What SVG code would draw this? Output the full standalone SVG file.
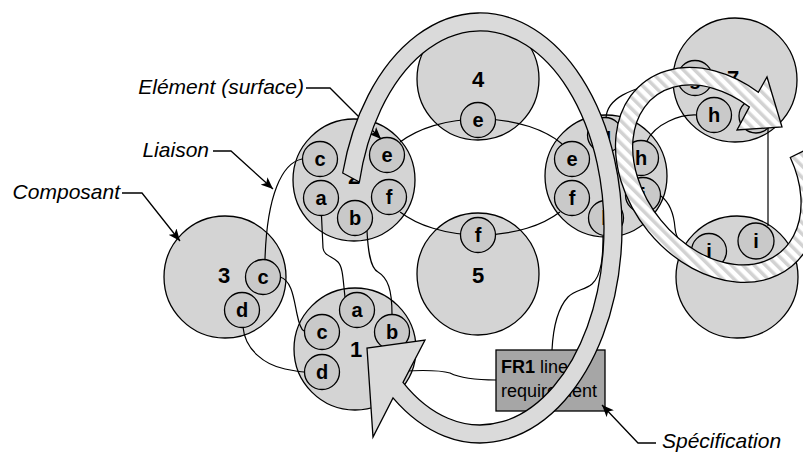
<svg xmlns="http://www.w3.org/2000/svg" width="803" height="454" viewBox="0 0 803 454">
<defs>
<style>
.comp{fill:#d4d4d4;stroke:#000;stroke-width:1.3}
.sub{fill:#c9c9c9;stroke:#000;stroke-width:1.3}
.sl{font-family:"Liberation Sans",Arial,sans-serif;font-weight:bold;font-size:20px;text-anchor:middle;fill:#000}
.bl{font-family:"Liberation Sans",Arial,sans-serif;font-weight:bold;font-size:22px;text-anchor:middle;fill:#000}
.con{fill:none;stroke:#000;stroke-width:1.2}
.call{font-family:"Liberation Sans",Arial,sans-serif;font-style:italic;font-size:21px;fill:#000}
.lead{fill:none;stroke:#000;stroke-width:1.3}
.band{fill:#dadada;stroke:#000;stroke-width:1.3;stroke-linejoin:miter}
.sband{fill:url(#stripes);stroke:#000;stroke-width:1.3}
.box{fill:#a6a6a6;stroke:#000;stroke-width:1.3}
.bt{font-family:"Liberation Sans",Arial,sans-serif;font-size:18px;fill:#000}
</style>
<marker id="ah" viewBox="0 0 12 10" refX="12" refY="5" markerWidth="12" markerHeight="10" markerUnits="userSpaceOnUse" orient="auto">
<path d="M0,0 L12,5 L0,10 L3,5 z" fill="#000"/>
</marker>
<pattern id="stripes" patternUnits="userSpaceOnUse" width="8" height="8" patternTransform="rotate(-45)">
<rect width="8" height="8" fill="#fff"/>
<rect width="3.5" height="8" fill="#d2d2d2"/>
</pattern>
</defs>
<rect width="803" height="454" fill="#fff"/>

<!-- big component circles -->
<g id="components">
<circle class="comp" cx="355" cy="349" r="61"/>
<circle class="comp" cx="354" cy="180" r="61"/>
<circle class="comp" cx="225" cy="277" r="61"/>
<circle class="comp" cx="478" cy="79" r="61"/>
<circle class="comp" cx="478" cy="274" r="61"/>
<circle class="comp" cx="606" cy="176" r="61"/>
<circle class="comp" cx="735" cy="80" r="62"/>
<circle class="comp" cx="737" cy="277" r="61"/>
</g>

<!-- liaisons -->
<g id="connectors">
<path class="con" d="M302,159 C282,163 267,195 265,259"/>
<path class="con" d="M321.5,216 L323,248 C324,256 332,256 338,262 C343,267 343,280 345,297"/>
<path class="con" d="M367,231 C368,250 370,268 378,272 C388,278 392,290 392,314"/>
<path class="con" d="M280,277 C292,280 294,300 297,314 C299,324 302,330 304,331"/>
<path class="con" d="M243,327 C245,350 265,365 285,369 C295,371 300,372 304,372"/>
<path class="con" d="M400.1,142.1 A100,58 0 0,1 561.9,143.7"/>
<path class="con" d="M400.1,211.9 A100,58 0 0,0 559.9,211.9"/>
<path class="con" d="M647,141 C655,124 680,114 697,115"/>
<path class="con" d="M606,118 C607,100 625,88 678,79"/>
<path class="con" d="M661,196 C670,203 674,215 675,228 C676,238 680,244 692,248"/>
<path class="con" d="M603,236 C603,255 602,275 592,284 C585,290 575,290 568,297 C556,310 553,330 552,350"/>
<path class="con" d="M404,371 C425,370 440,370 450,373 C458,377 470,380 496,380"/>
<path class="con" d="M768,128 L768,226"/>
</g>

<g id="node1">
<text class="bl" x="356" y="357">1</text>
<circle class="sub" cx="357" cy="310" r="17.5"/><text class="sl" x="357" y="317">a</text>
<circle class="sub" cx="322" cy="332" r="17.5"/><text class="sl" x="322" y="339">c</text>
<circle class="sub" cx="392" cy="332" r="17.5"/><text class="sl" x="392" y="339">b</text>
<circle class="sub" cx="322" cy="372" r="17.5"/><text class="sl" x="322" y="379">d</text>
</g>
<g id="node2">
<text class="bl" x="354" y="184">2</text>
<circle class="sub" cx="320" cy="159" r="17.5"/><text class="sl" x="320" y="166">c</text>
<circle class="sub" cx="387" cy="155" r="17.5"/><text class="sl" x="387" y="162">e</text>
<circle class="sub" cx="321" cy="198" r="17.5"/><text class="sl" x="321" y="205">a</text>
<circle class="sub" cx="389" cy="197" r="17.5"/><text class="sl" x="389" y="204">f</text>
<circle class="sub" cx="355" cy="218" r="17.5"/><text class="sl" x="355" y="225">b</text>
</g>
<g id="node3">
<text class="bl" x="224" y="283">3</text>
<circle class="sub" cx="263" cy="277" r="17.5"/><text class="sl" x="263" y="284">c</text>
<circle class="sub" cx="242" cy="310" r="17.5"/><text class="sl" x="242" y="317">d</text>
</g>
<g id="node4">
<text class="bl" x="478" y="87">4</text>
<circle class="sub" cx="478" cy="120" r="17.5"/><text class="sl" x="478" y="127">e</text>
</g>
<g id="node5">
<text class="bl" x="478" y="283">5</text>
<circle class="sub" cx="478" cy="235" r="17.5"/><text class="sl" x="478" y="242">f</text>
</g>
<g id="node6">
<circle class="sub" cx="572" cy="159" r="17.5"/><text class="sl" x="572" y="166">e</text>
<circle class="sub" cx="572" cy="198" r="17.5"/><text class="sl" x="572" y="205">f</text>
<circle class="sub" cx="605" cy="135" r="17.5"/><text class="sl" x="605" y="142">g</text>
<circle class="sub" cx="641" cy="158" r="17.5"/><text class="sl" x="641" y="165">h</text>
<circle class="sub" cx="643" cy="195" r="17.5"/><text class="sl" x="643" y="202">i</text>
<circle class="sub" cx="606" cy="218" r="17.5"/><text class="sl" x="604" y="225">l</text>
</g>
<g id="node7">
<text class="bl" x="733" y="86">7</text>
<circle class="sub" cx="695" cy="78" r="17.5"/><text class="sl" x="695" y="85">g</text>
<circle class="sub" cx="714" cy="115" r="17.5"/><text class="sl" x="714" y="122">h</text>
<circle class="sub" cx="756" cy="116" r="17"/><text class="sl" x="756" y="123">i</text>
</g>
<g id="node8">
<circle class="sub" cx="709" cy="251" r="17.5"/><text class="sl" x="709" y="258">j</text>
<circle class="sub" cx="756" cy="241" r="18"/><text class="sl" x="756" y="248">i</text>
</g>

<g id="fr1">
<rect class="box" x="496" y="350" width="109" height="61"/>
<text class="bt" x="501" y="373"><tspan font-weight="bold">FR1</tspan> line</text>
<text class="bt" x="501" y="397">requirement</text>
</g>

<g id="callouts">
<text class="call" x="304" y="94" text-anchor="end">Elément (surface)</text>
<path class="lead" d="M306,88 L330,88 L381,139" marker-end="url(#ah)"/>
<text class="call" x="209" y="157" text-anchor="end">Liaison</text>
<path class="lead" d="M213,151 L231,151 L273,189" marker-end="url(#ah)"/>
<text class="call" x="120" y="199" text-anchor="end">Composant</text>
<path class="lead" d="M122,193 L142,193 L180,241" marker-end="url(#ah)"/>
<text class="call" x="662" y="448">Spécification</text>
<path class="lead" d="M656,443 L638,443 L602,405" marker-end="url(#ah)"/>
</g>

<g id="loop-arrow">
<path class="band" d="M342.7,173 A142,215 0 1,1 393,397.9 L373,437 L367,348 L425,340 L403,382.4 A124,197 0 1,0 359.4,182 Z"/>
</g>
<g id="striped-arrow">
<path class="sband" d="M805.7,150 A118,89 51 1,1 758.3,92.2 L767,77 L782,127 L737,130 L749.4,106.9 A100,72 51 1,0 790.3,157.5 Z"/>
</g>
</svg>
